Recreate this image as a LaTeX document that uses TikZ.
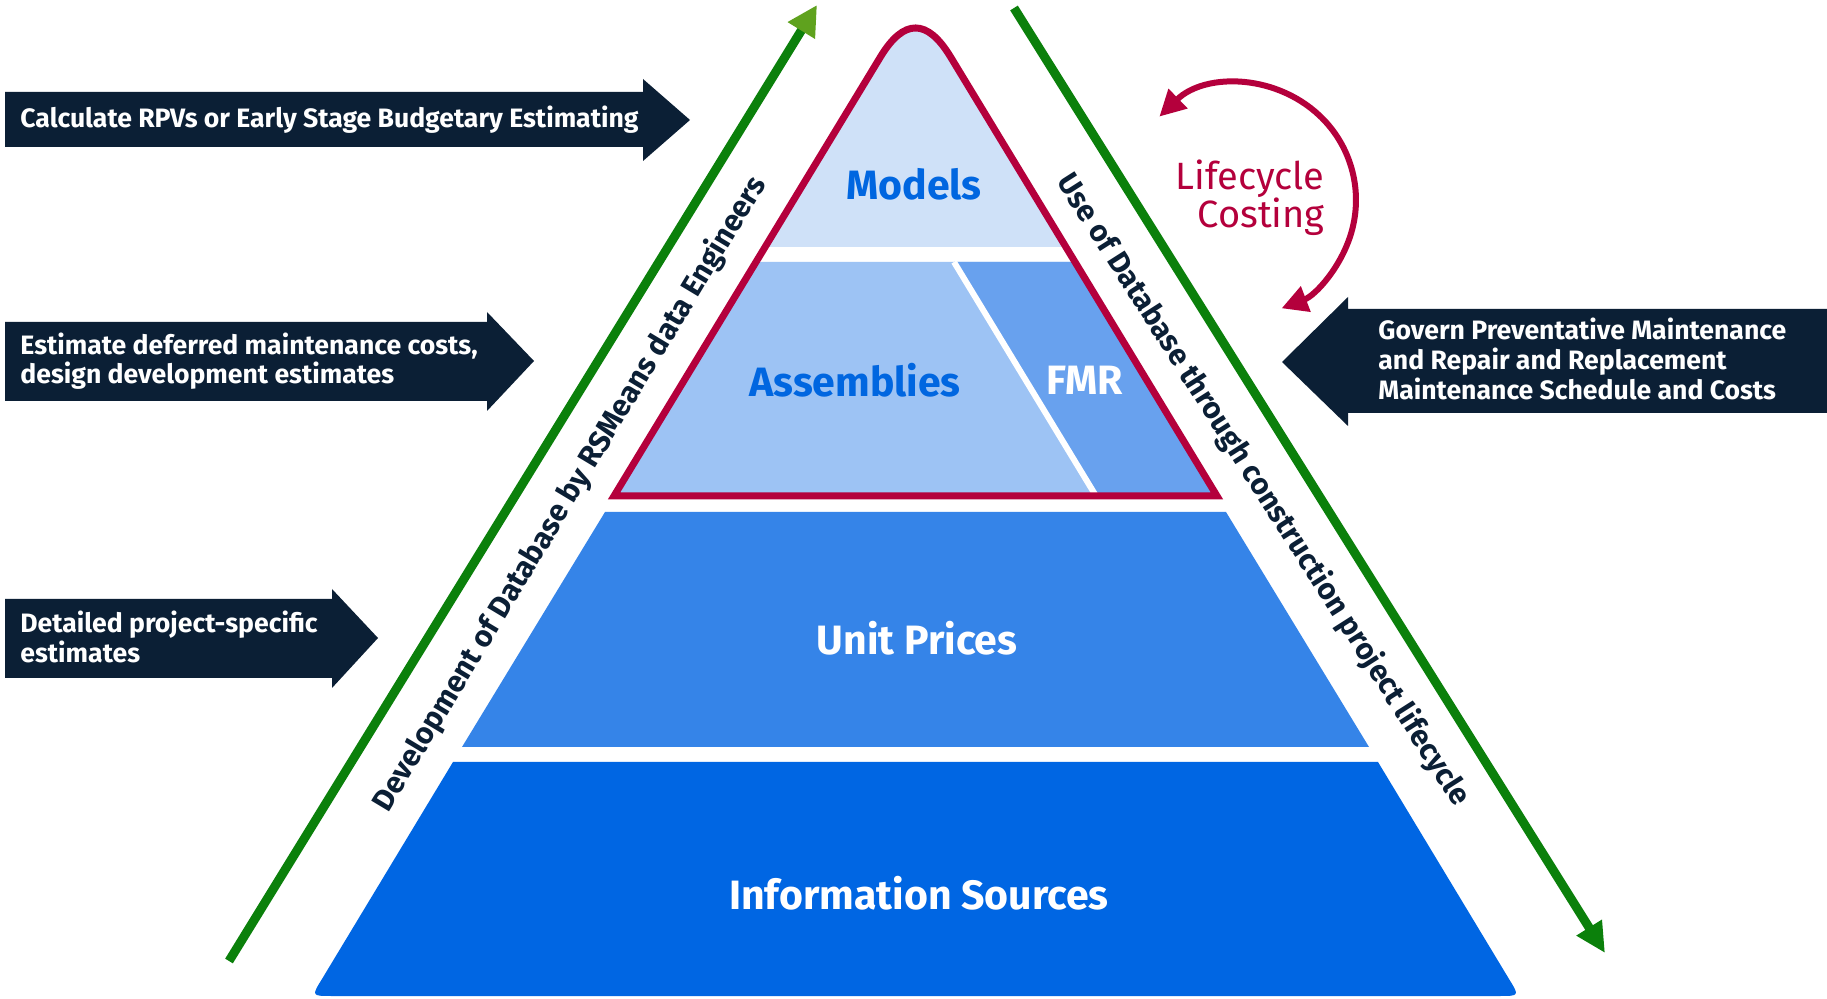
\documentclass[tikz,border=0pt]{standalone}
\usepackage{fontspec}
\setmainfont{Fira Sans}
\usepackage{xcolor}
\usepackage{tikz}
\usetikzlibrary{calc}
\usetikzlibrary{positioning}
\usetikzlibrary{arrows.meta}

\definecolor{navy}{HTML}{0B1F35}
\definecolor{crimson}{HTML}{B4003C}
\definecolor{leafgreen}{HTML}{0B800B}
\definecolor{tipgreen}{HTML}{5FA21E}
\definecolor{modelblue}{HTML}{CFE1F8}
\definecolor{assemblyblue}{HTML}{9DC3F4}
\definecolor{fmrblue}{HTML}{68A1EE}
\definecolor{unitblue}{HTML}{3584E8}
\definecolor{infoblue}{HTML}{0066E3}
\definecolor{labelblue}{HTML}{0066E0}

\tikzset{
	navyarrow/.style={fill=navy, draw=none},
	arrowtext/.style={text=white, font=\bfseries\fontsize{13.3}{14.8}\selectfont, align=left, anchor=west, inner sep=0pt},
	layertext/.style={font=\bfseries\fontsize{20.5}{24}\selectfont, inner sep=0pt},
	sidetext/.style={text=navy, font=\bfseries\fontsize{15}{17}\selectfont, inner sep=0pt},
	greenline/.style={draw=leafgreen, line width=4.5pt},
	costtext/.style={text=crimson, font=\fontsize{19}{19}\selectfont, align=right, inner sep=0pt},
}

\begin{document}
\begin{tikzpicture}[x=0.5pt, y=-0.5pt]
		
		\path[fill=white, use as bounding box] (0,0) rectangle (1827,999);
		
		\fill[navyarrow] (5,92) -- (643,92) -- (643,79) -- (690,120) -- (643,161) -- (643,147) -- (5,147) -- cycle;
		\node[arrowtext] (rpv) at (20,120) {Calculate RPVs or Early Stage Budgetary Estimating};
		
		\fill[navyarrow] (5,322) -- (487,322) -- (487,312) -- (534,361) -- (487,411) -- (487,401) -- (5,401) -- cycle;
		\node[arrowtext] (deferred) at (20,361) {Estimate deferred maintenance costs,\\design development estimates};
		
		\fill[navyarrow] (5,599) -- (332,599) -- (332,589) -- (378,638) -- (332,688) -- (332,678) -- (5,678) -- cycle;
		\node[arrowtext] (detailed) at (20,637) {Detailed project-specific\\estimates};
		
		\fill[navyarrow] (1827,309) -- (1348,309) -- (1348,297) -- (1282,362) -- (1348,426) -- (1348,413) -- (1827,413) -- cycle;
		\node[arrowtext] (govern) at (1378,359) {Govern Preventative Maintenance\\and Repair and Replacement\\Maintenance Schedule and Costs};
		
		\fill[modelblue] (765,247) -- (880.4,57) .. controls (903.8,18.3) and (927.2,18.3) .. (950.6,57) -- (1066,247) -- cycle;
		\fill[assemblyblue] (756,262) -- (1075,262) -- (1216,496) -- (615,496) -- cycle;
		\fill[fmrblue] (954,262) -- (1075,262) -- (1216,496) -- (1096,496) -- cycle;
		\draw[white, line width=3pt] (954,262) -- (1096,496);
		\draw[crimson, line width=3.5pt] (614,496) -- (880.4,57) .. controls (903.8,18.3) and (927.2,18.3) .. (950.6,57) -- (1217,496) -- cycle;
		\node[layertext, text=labelblue] (models) at (914,184) {Models};
		\node[layertext, text=labelblue] (assemblies) at (855,380) {Assemblies};
		\node[layertext, text=white] (fmr) at (1085,380) {FMR};
		
		\fill[unitblue] (605,512) -- (1226,512) -- (1369,747) -- (462,747) -- cycle;
		\node[layertext, text=white] (unitprices) at (917,638) {Unit Prices};
		
		\fill[infoblue] (453,762) -- (1378,762) -- (1509,979) .. controls (1519.5,996) .. (1499,996) -- (332,996) .. controls (311.5,996) .. (322,979) -- cycle;
		\node[layertext, text=white] (infosources) at (919,893) {Information Sources};
		
		\coordinate (devStart) at (229,961);
		\coordinate (devEnd) at (817,5);
		\draw[greenline, -{Triangle[length=15pt, width=15pt, color=tipgreen]}] (devStart) -- (devEnd);
		\node[sidetext, rotate=59] (devlabel) at (570,494) {Development of Database by RSMeans data Engineers};
		
		\coordinate (useStart) at (1014,8);
		\coordinate (useEnd) at (1605,953);
		\draw[greenline, -{Triangle[length=15pt, width=14pt]}] (useStart) -- (useEnd);
		\node[sidetext, rotate=-57.5] (uselabel) at (1263,490) {Use of Database through construction project lifecycle};
		
		\coordinate (costTop) at (1159.4,116.6);
		\draw[crimson, line width=3pt, {Triangle[length=13pt, width=13pt]}-{Triangle[length=13pt, width=13pt]}] (costTop) arc[start angle=134, end angle=-69, radius=58pt];
		\node[costtext, anchor=north east] (costing) at (1325,159) {Lifecycle\\Costing};
		
	\end{tikzpicture}
\end{document}
